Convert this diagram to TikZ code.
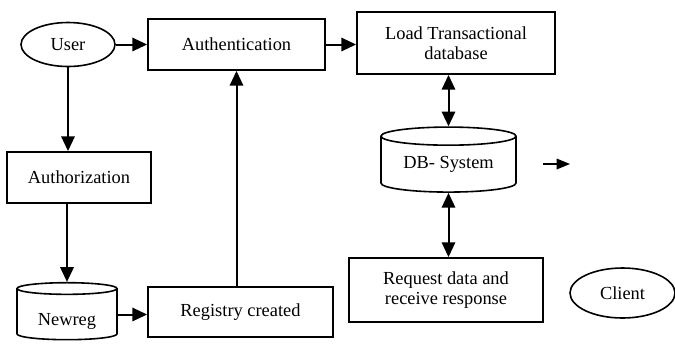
\documentclass[tikz,border=0pt]{standalone}
\usepackage{fontspec}
\setmainfont{Liberation Serif}
\usetikzlibrary{arrows.meta,shapes.geometric}

\begin{document}
\begin{tikzpicture}
[x=0.75pt,y=-0.75pt
,font=\fontsize{13.8}{15}\selectfont
,box/.style={rectangle,draw,line width=1.4pt,inner sep=0pt,align=center}
,actor/.style={ellipse,draw,line width=1.2pt,inner sep=0pt}
,store/.style={cylinder,draw,line width=1.2pt,shape border rotate=90,aspect=0.2,inner sep=0pt}
,fl/.style={draw=black,line width=1.5pt,arrows={-Triangle[length=11pt,width=10pt]}}
,bfl/.style={draw=black,line width=1.5pt,arrows={Triangle[length=11pt,width=10pt]-Triangle[length=11pt,width=10pt]}}
,sfl/.style={draw=black,line width=0.9pt,arrows={-Triangle[length=10pt,width=8pt]}}]
\useasboundingbox (0,0) rectangle (675,344);
\node[actor,minimum width=70.5pt,minimum height=33pt] (user) at (68,44.5) {User};
\node[box,minimum width=132.75pt,minimum height=38.25pt] (auth) at (236.5,44.5) {Authentication};
\node[box,minimum width=148.5pt,minimum height=46.5pt] (load) at (456,43) {Load Transactional\\database};
\node[box,minimum width=108pt,minimum height=38.25pt] (authz) at (79,177.5) {Authorization};
\node[store,minimum width=75pt,minimum height=42.75pt] (newreg) at (67,314.5) {\raisebox{-8pt}[0pt][0pt]{Newreg}};
\node[box,minimum width=138.75pt,minimum height=37.5pt] (reg) at (240.5,312) {Registry created};
\node[store,minimum width=101.25pt,minimum height=48.75pt] (db) at (448.5,164.5) {DB- System};
\node[box,minimum width=145.5pt,minimum height=48pt] (req) at (446,290) {Request data and\\receive response};
\node[actor,minimum width=78.75pt,minimum height=37.5pt] (client) at (622.5,293) {Client};
\coordinate (out1) at (543,164);
\coordinate (out2) at (570,164);
\draw[fl] (user) -- (auth);
\draw[fl] (auth.east) -- (auth.east -| load.west);
\draw[bfl] (load.south -| db.north) -- (db.north);
\draw[bfl] (db.south) -- (db.south |- req.north);
\draw[fl] (user.south) -- (user.south |- authz.north);
\draw[fl] (authz.south -| newreg.north) -- (newreg.north);
\draw[fl] (newreg.east) -- (newreg.east -| reg.west);
\draw[fl] (reg.north -| auth.south) -- (auth.south);
\draw[sfl] (out1) -- (out2);
\end{tikzpicture}
\end{document}
